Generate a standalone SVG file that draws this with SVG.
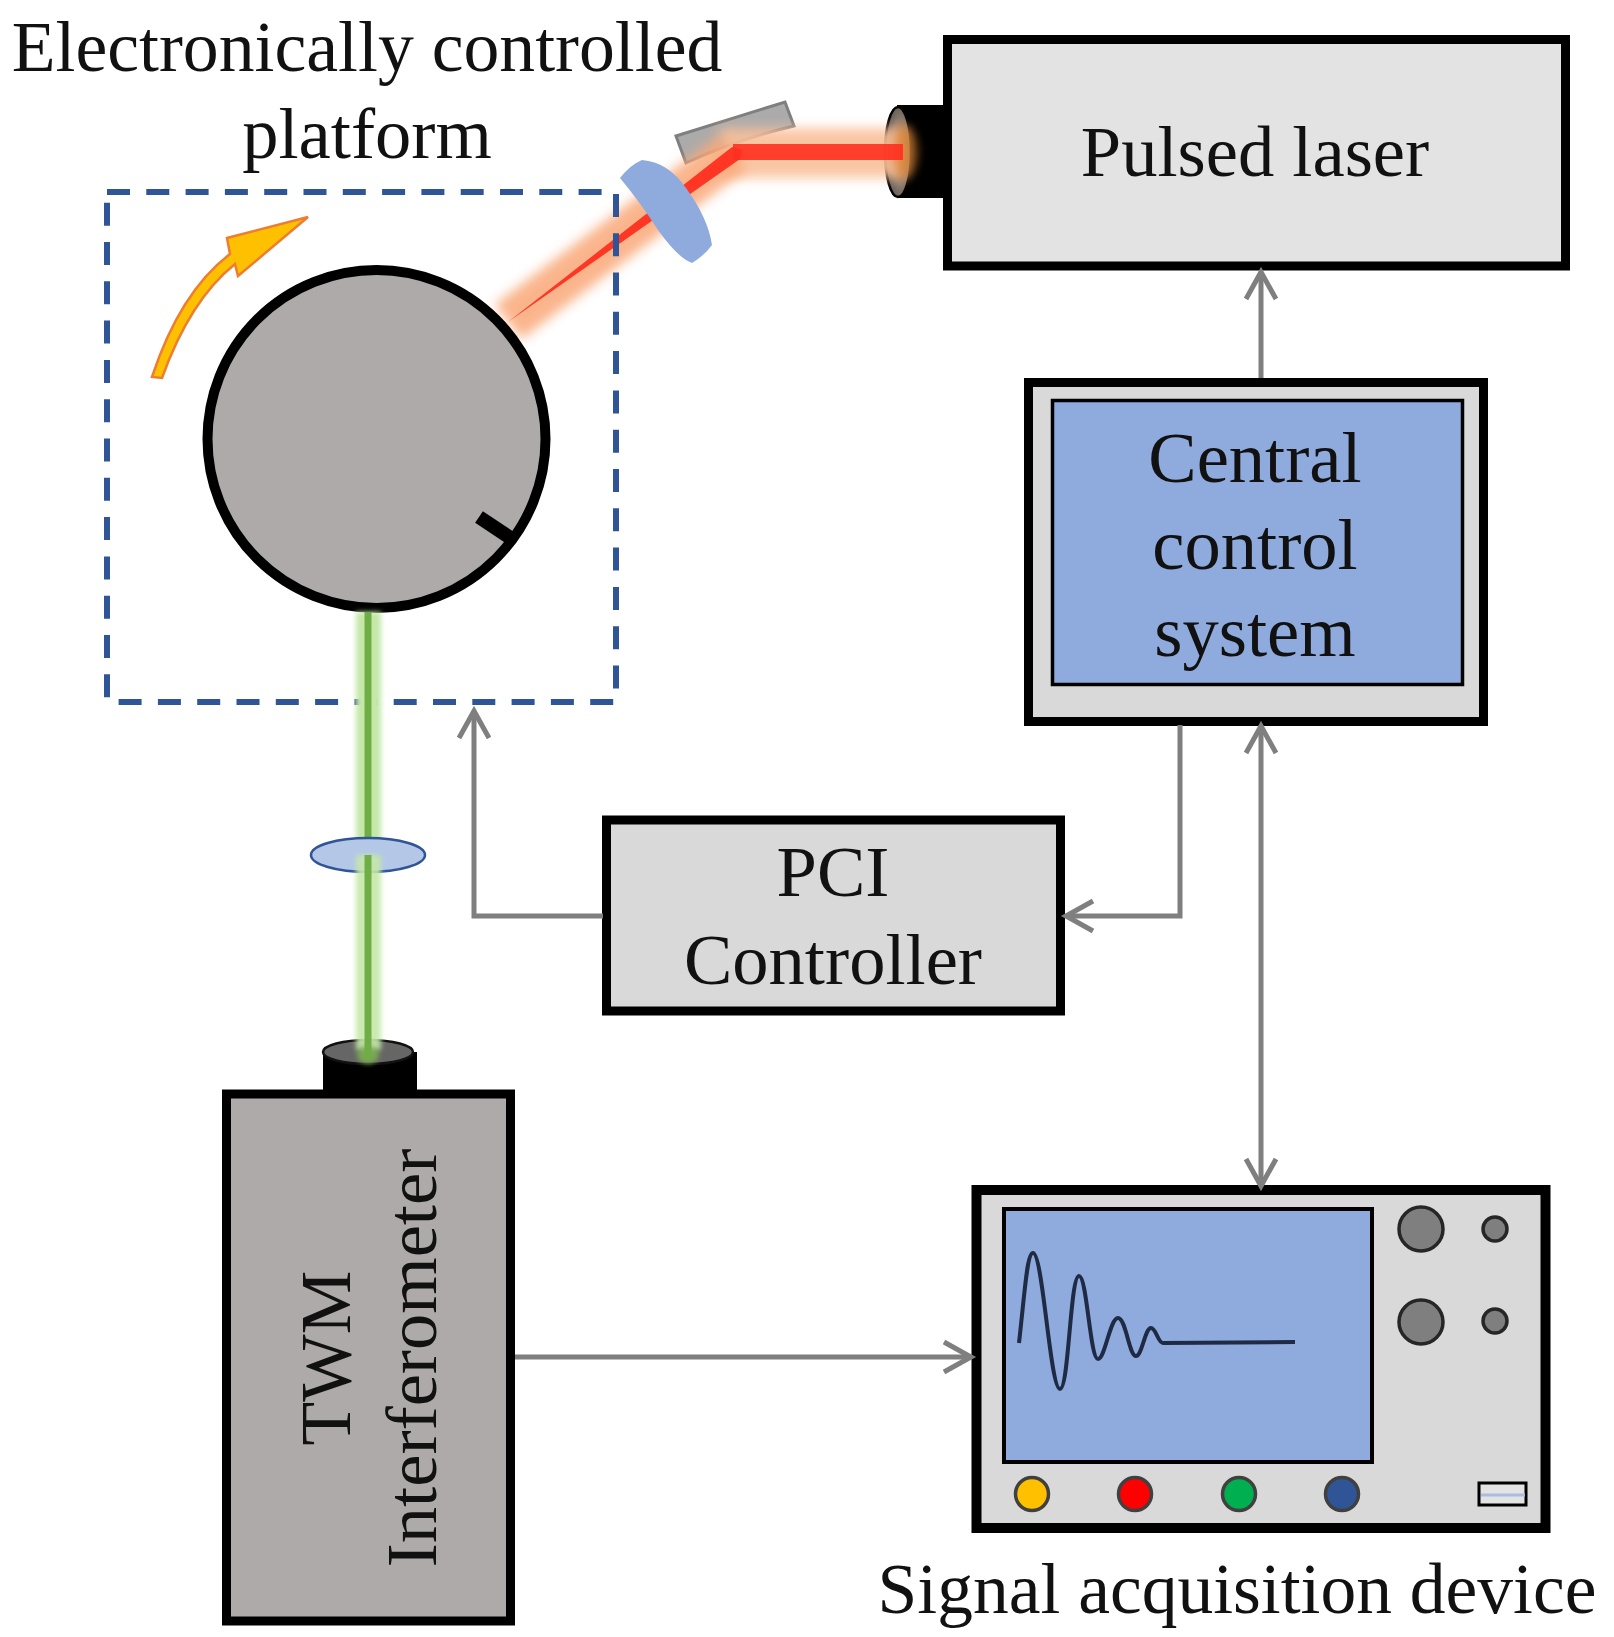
<svg xmlns="http://www.w3.org/2000/svg" width="1614" height="1637" viewBox="0 0 1614 1637">
<style>
.t{font-family:"Liberation Serif","Times New Roman",serif;font-size:72.5px;fill:#111;text-anchor:middle}
.box{stroke:#000;stroke-width:9;fill:#d9d9d9}
.scr{fill:#8faadc;stroke:#000}
.conn{fill:none;stroke:#7f7f7f;stroke-width:5}
.knob{fill:#7f7f7f;stroke:#262626;stroke-width:3.5}
.led{stroke:#404040;stroke-width:3.5}
</style>
<defs>
<marker id="a" markerUnits="userSpaceOnUse" viewBox="-32 -20 40 40" refX="0" refY="0" markerWidth="40" markerHeight="40" orient="auto-start-reverse">
<path d="M-27,-15 L0,0 L-27,15" fill="none" stroke="#7f7f7f" stroke-width="5"/>
</marker>
<filter id="b" x="-30%" y="-100%" width="160%" height="300%"><feGaussianBlur stdDeviation="6"/></filter>
<filter id="b2" x="-100%" y="-20%" width="300%" height="140%"><feGaussianBlur stdDeviation="2.5"/></filter>
<filter id="b3" x="-100%" y="-100%" width="300%" height="300%"><feGaussianBlur stdDeviation="5"/></filter>
<radialGradient id="hg" cx="0.6" cy="0.5" r="0.6"><stop offset="0" stop-color="#c87a3a"/><stop offset="0.6" stop-color="#8a7a6a"/><stop offset="1" stop-color="#555"/></radialGradient>
</defs>

<g id="laser">
<rect x="897" y="105" width="48" height="93" fill="#000"/>
<ellipse cx="898" cy="152" rx="13" ry="45" fill="url(#hg)" stroke="#000" stroke-width="2.5"/>
<rect class="box" x="947.5" y="39.5" width="618" height="226.5" style="fill:#e3e3e3"/>
<text class="t" x="1255" y="176">Pulsed laser</text>
</g>

<g id="mirror">
<path d="M676,136 L785,102 L794,126 Q735,140 686,163 Z" fill="#ababab" stroke="#7f7f7f" stroke-width="3"/>
</g>

<g id="beam-red">
<rect x="720" y="128" width="185" height="50" fill="#f9c09a" filter="url(#b)" opacity="0.9"/>
<path d="M733,152 L508,322" stroke="#f9a878" stroke-width="44" fill="none" filter="url(#b)" opacity="0.85"/>
<ellipse cx="905" cy="152" rx="12" ry="26" fill="#d9802f" filter="url(#b3)" opacity="0.7"/>
<rect x="733" y="144" width="170" height="16" fill="#ff2f1f" opacity="0.9"/>
<polygon points="732,147 742,150 740,159 508,322" fill="#ff2f1f" opacity="0.95"/>
</g>

<g id="lens-mirror">
<path d="M620,178 Q630,165 642,160 Q668,162 686,188 Q708,218 712,245 Q705,255 692,263 Q678,258 658,230 Q640,202 620,178 Z" fill="#8faadc"/>
</g>

<g id="platform">
<rect x="107" y="192" width="509" height="510" fill="none" stroke="#2f5597" stroke-width="6" stroke-dasharray="23 16.3"/>
<path d="M152,377 Q180,292 230,254 L227,238 L308,217 L238,276 L235,264 Q190,300 162,378 Z" fill="#ffc000" stroke="#ed7d31" stroke-width="2.5"/>
<circle cx="376.500" cy="439" r="169" fill="#aeaaaa" stroke="#000" stroke-width="10"/>
<line x1="479" y1="517" x2="515" y2="541" stroke="#000" stroke-width="14"/>
<text class="t" x="367" y="158">platform</text>
<text class="t" x="367" y="71" style="font-size:71.7px">Electronically controlled</text>
</g>

<g id="beam-green-upper">
<rect x="356" y="612" width="25" height="243" fill="#c5e8a8" filter="url(#b2)"/>
<rect x="364.500" y="612" width="7" height="243" fill="#70ad47"/>
</g>

<g id="focus-lens">
<ellipse cx="368" cy="855" rx="57" ry="17" fill="#b4c7e7" stroke="#2f5597" stroke-width="2.500"/>
</g>

<g id="interferometer">
<rect x="323" y="1052" width="94" height="40" fill="#000"/>
<ellipse cx="368" cy="1052" rx="45" ry="12" fill="#666" stroke="#111" stroke-width="2.500"/>
<rect class="box" x="226.500" y="1094" width="284" height="527" style="fill:#aeaaaa"/>
<text class="t" transform="translate(350,1358) rotate(-90)" style="font-size:71.5px">TWM</text>
<text class="t" transform="translate(436,1358) rotate(-90)">Interferometer</text>
</g>

<g id="beam-green-lower">
<rect x="356" y="855" width="25" height="195" fill="#c5e8a8" filter="url(#b2)" opacity="0.9"/>
<ellipse cx="368" cy="1055" rx="11" ry="9" fill="#7fb84f" filter="url(#b2)" opacity="0.8"/>
<rect x="364.500" y="855" width="7" height="204" fill="#70ad47"/>
</g>

<g id="central-control">
<rect class="box" x="1028.500" y="382.500" width="455" height="339"/>
<rect class="scr" x="1052.500" y="400.500" width="410" height="284" stroke-width="3.500"/>
<text class="t" x="1255" y="482">Central</text>
<text class="t" x="1255" y="569">control</text>
<text class="t" x="1255" y="656">system</text>
</g>

<g id="pci">
<rect class="box" x="606.500" y="820" width="454" height="191"/>
<text class="t" x="833" y="896">PCI</text>
<text class="t" x="833" y="984">Controller</text>
</g>

<g id="scope">
<rect class="box" x="976.500" y="1190" width="569" height="338" style="stroke-width:10"/>
<rect class="scr" x="1004" y="1209" width="368" height="253" stroke-width="4"/>
<path d="M1019,1343 C1025,1290 1027,1253 1033,1253 C1043,1253 1050,1389 1060,1389 C1069,1389 1070,1276 1079,1276 C1087,1276 1090,1359 1098,1359 C1105,1359 1110,1318 1118,1318 C1126,1318 1129,1356 1136,1356 C1142,1356 1145,1328 1151,1328 C1156,1328 1158,1343 1163,1343 L1295,1342" fill="none" stroke="#1f2a44" stroke-width="4"/>
<circle class="knob" cx="1421" cy="1229" r="22"/>
<circle class="knob" cx="1421" cy="1322" r="22"/>
<circle class="knob" cx="1495" cy="1229" r="12"/>
<circle class="knob" cx="1495" cy="1321" r="12"/>
<circle class="led" cx="1032" cy="1494" r="16.500" fill="#ffc000"/>
<circle class="led" cx="1135" cy="1494" r="16.500" fill="#ff0000"/>
<circle class="led" cx="1239" cy="1494" r="16.500" fill="#00b050"/>
<circle class="led" cx="1342" cy="1494" r="16.500" fill="#2f5597"/>
<rect x="1479" y="1483" width="47" height="22" fill="#e3e3e3" stroke="#000" stroke-width="3"/>
<line x1="1481" y1="1495" x2="1525" y2="1495" stroke="#a9bde3" stroke-width="3"/>
<text class="t" x="1237" y="1613" style="font-size:71.5px">Signal acquisition device</text>
</g>

<g id="connectors">
<path class="conn" d="M1261,378 V272" marker-end="url(#a)"/>
<path class="conn" d="M1261,726 V1186" marker-start="url(#a)" marker-end="url(#a)"/>
<path class="conn" d="M1180,725 V916 H1066" marker-end="url(#a)"/>
<path class="conn" d="M603,916 H474 V711" marker-end="url(#a)"/>
<path class="conn" d="M515,1357 H971" marker-end="url(#a)"/>
</g>
</svg>
